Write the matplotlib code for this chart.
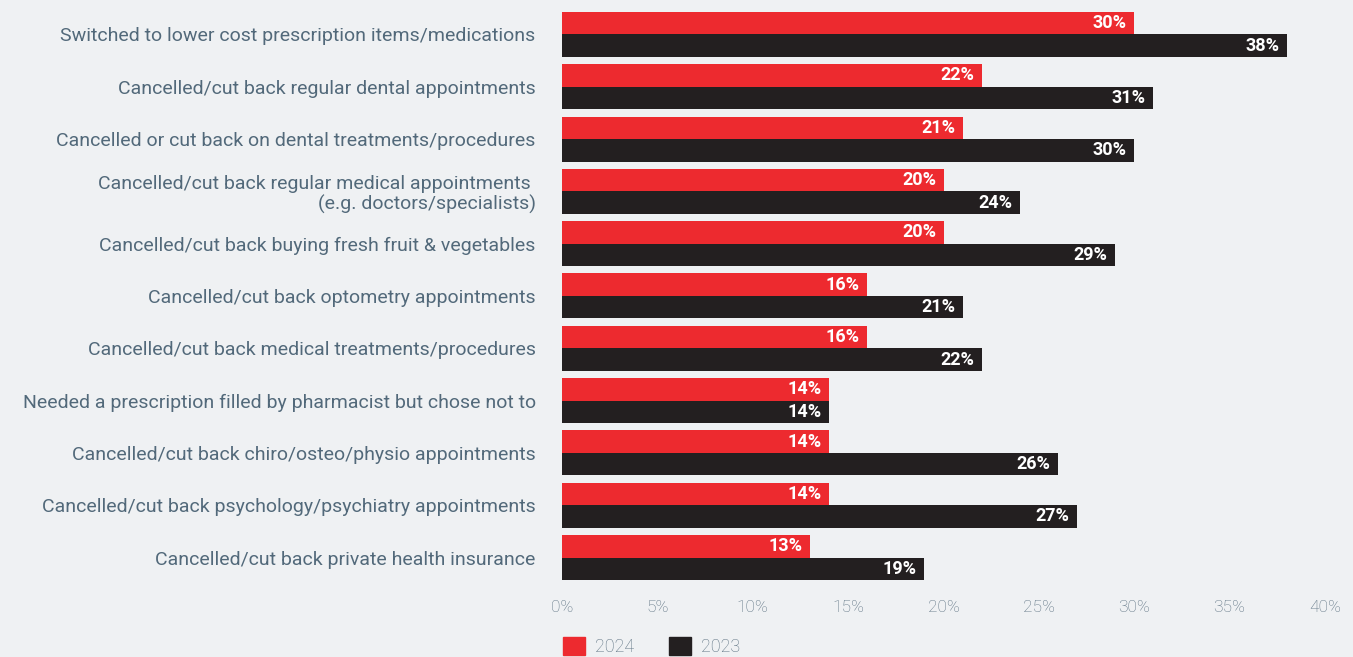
import numpy as np
import matplotlib.pyplot as plt
import matplotlib.transforms as mtransforms
from matplotlib.patches import Patch

categories = [
    "Switched to lower cost prescription items/medications",
    "Cancelled/cut back regular dental appointments",
    "Cancelled or cut back on dental treatments/procedures",
    "Cancelled/cut back regular medical appointments \n(e.g. doctors/specialists)",
    "Cancelled/cut back buying fresh fruit & vegetables",
    "Cancelled/cut back optometry appointments",
    "Cancelled/cut back medical treatments/procedures",
    "Needed a prescription filled by pharmacist but chose not to",
    "Cancelled/cut back chiro/osteo/physio appointments",
    "Cancelled/cut back psychology/psychiatry appointments",
    "Cancelled/cut back private health insurance",
]
vals_2024 = [30, 22, 21, 20, 20, 16, 16, 14, 14, 14, 13]
vals_2023 = [38, 31, 30, 24, 29, 21, 22, 14, 26, 27, 19]
x_ticks = [0, 5, 10, 15, 20, 25, 30, 35, 40]

bg = "#eff1f3"
red = "#ed2a2f"
black = "#231f20"
grey = "#52697a"

plt.rcParams['font.family'] = ['Roboto', 'DejaVu Sans']

fig = plt.figure(figsize=(13.53, 6.57), dpi=100, facecolor=bg)
ax = fig.add_axes([0.4154, 0.1116, 0.5639, 0.8758])
ax.set_facecolor(bg)

y = np.arange(len(categories))
h = 0.43
b1 = ax.barh(y - h / 2, vals_2024, height=h, color=red, label="2024")
b2 = ax.barh(y + h / 2, vals_2023, height=h, color=black, label="2023")

# value labels inside the bar ends
for bars, vals in ((b1, vals_2024), (b2, vals_2023)):
    for bar, v in zip(bars, vals):
        ax.text(bar.get_width() - 0.4, bar.get_y() + bar.get_height() / 2,
                f"{v}%", ha="right", va="center", color="white",
                fontsize=13, fontweight="bold")

ax.set_xlim(0, 40)
ax.set_ylim(10.5, -0.5)
ax.set_yticks(y)
ax.set_yticklabels(categories, fontsize=14, color=grey, fontweight="normal",
                   ha="right", multialignment="right", linespacing=1.1)
# nudge category labels up a little
shift = mtransforms.ScaledTranslation(0, 2 / 72, fig.dpi_scale_trans)
for lab in ax.get_yticklabels():
    lab.set_transform(lab.get_transform() + shift)
ax.set_xticks(x_ticks)
ax.set_xticklabels([f"{t}%" for t in x_ticks], fontsize=12.5, color="#5d7282",
                   fontweight="light")
ax.tick_params(axis="y", length=0, pad=19)
ax.tick_params(axis="x", length=0, pad=12)
for s in ax.spines.values():
    s.set_visible(False)

handles = [Patch(color=red, label="2024"), Patch(color=black, label="2023")]
leg = fig.legend(handles=handles, loc="lower left",
                 bbox_to_anchor=(0.4154, 0.0), ncol=2, frameon=False,
                 fontsize=13, handlelength=1.2, handleheight=1.1,
                 handletextpad=0.6, columnspacing=1.9, borderaxespad=0,
                 borderpad=0.05)
for t in leg.get_texts():
    t.set_color("#5d7282")
    t.set_fontweight("light")

fig.savefig("out.png", dpi=100, facecolor=bg)
